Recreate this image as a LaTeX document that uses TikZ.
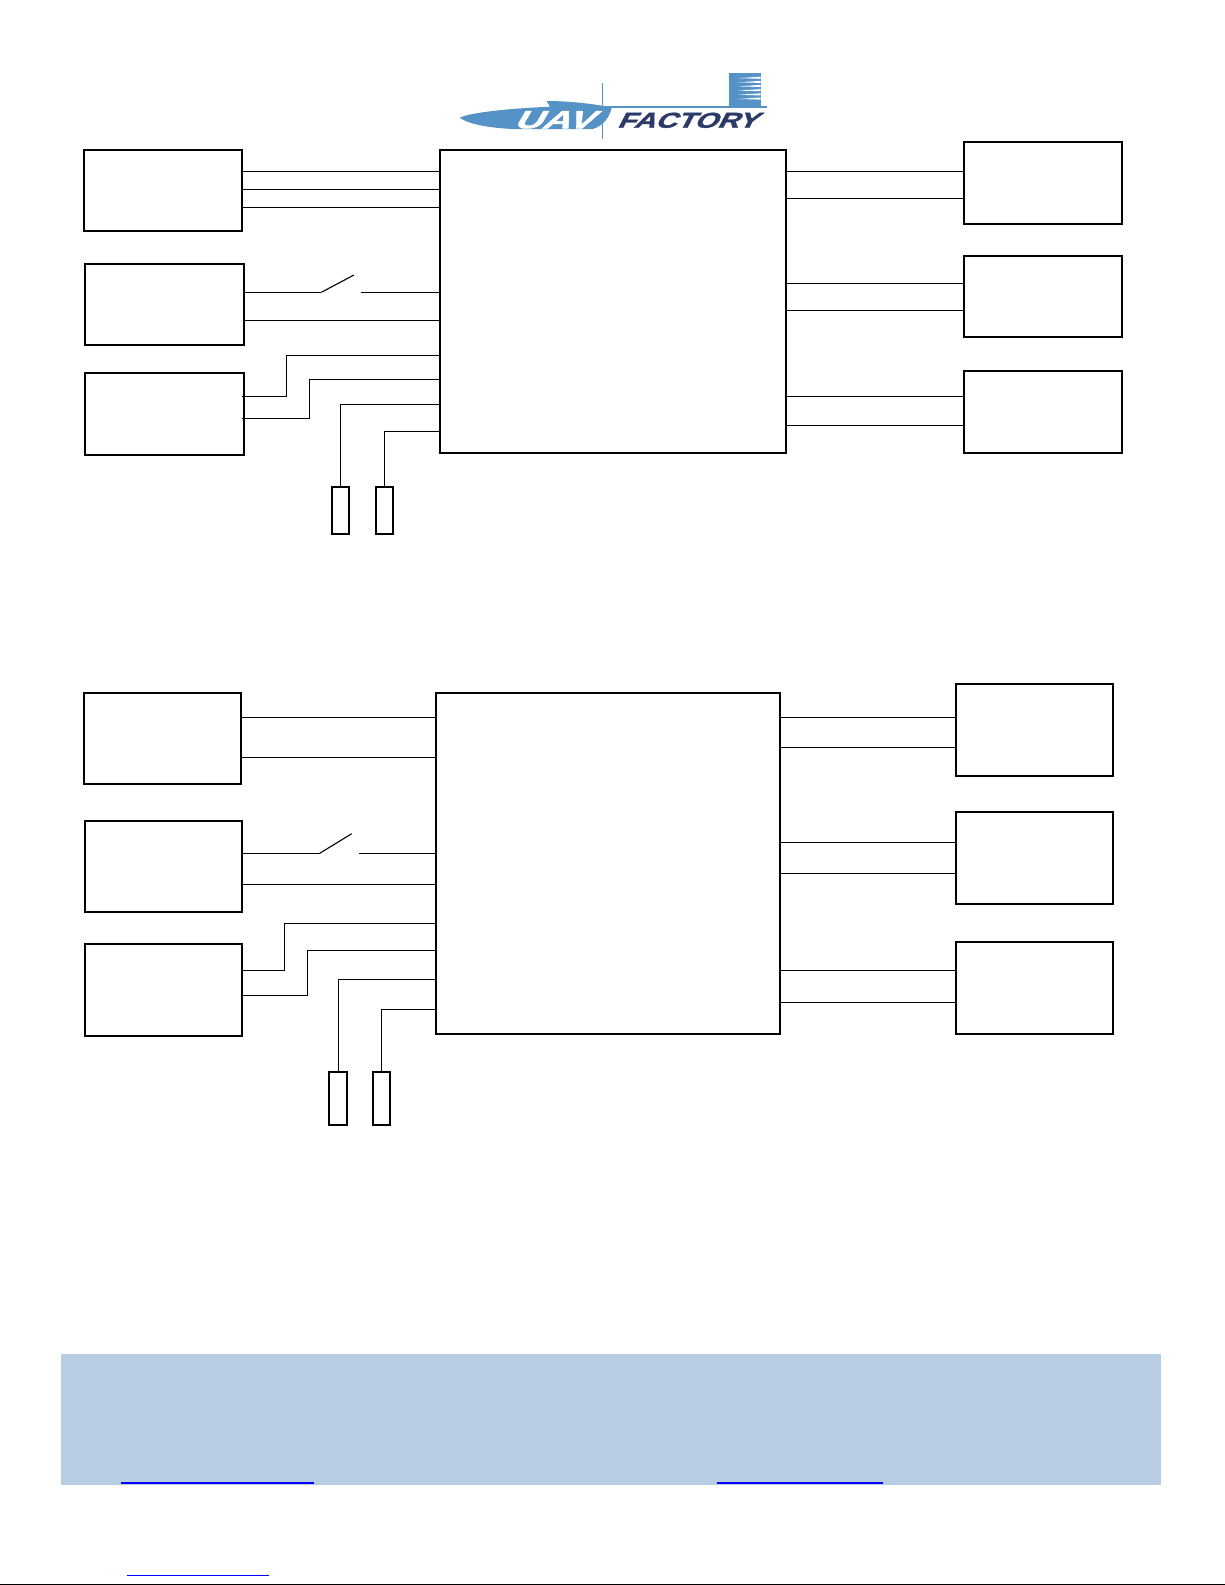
\documentclass[tikz,border=0pt]{standalone}
\usepackage{fontspec}
\setmainfont[BoldFeatures={FakeBold=1.6}]{Liberation Sans}
\definecolor{bandblue}{HTML}{B8CCE4}
\definecolor{logoblue}{HTML}{5592C6}
\definecolor{logonavy}{HTML}{2B3A67}
\definecolor{linkblue}{HTML}{0000FF}
\tikzset{
  blockbox/.style={draw=black,line width=2pt,inner sep=0pt,outer sep=0pt,anchor=north west,fill=white},
  wire/.style={draw=black,line width=1pt},
  swlever/.style={draw=black,line width=1.1pt},
  linkline/.style={draw=linkblue,line width=2pt},
  logoword/.style={inner sep=0pt,anchor=base west,font=\bfseries,transform shape},
}
% box: name, left, top, right, bottom
\newcommand{\blk}[5]{\node[blockbox,minimum width={(#4-#2)*1pt},minimum height={(#5-#3)*1pt}] (#1) at (#2,#3) {};}
% straight wire between east side of one node and west side of another at height y
\newcommand{\hw}[3]{\draw[wire] (#1.east |- 0,#3) -- (#2.west |- 0,#3);}
\begin{document}
\begin{tikzpicture}[x=1pt,y=-1pt]
\useasboundingbox (0,0) rectangle (1225,1585);
\fill[white] (0,0) rectangle (1225,1585);

% ---- logo ----
\fill[logoblue] (459.7,117.7) .. controls (468,113.5) and (500,108.8) .. (550,106.7)
  -- (546.5,101) .. controls (565,101) and (590,103) .. (611.7,107.5)
  .. controls (610,116) and (604,126) .. (592,129.2)
  -- (521.7,129.2) .. controls (498,129) and (470,125.5) .. (459.7,117.7) -- cycle;
\fill[logoblue] (605,105.6) rectangle (766.7,107.8);
\fill[logoblue] (729.3,73.3) rectangle (760.7,106);
\foreach \yy in {77.6,81.7,85.8,90,94.2,98.4}
  \fill[white] (738,\yy+0.6) -- (760.7,\yy-0.9) -- (760.7,\yy+1.2) -- cycle;
\draw[logoblue,line width=1pt] (602.3,83) -- (602.3,139);
\node[logoword,text=white,font=\bfseries\fontsize{25}{25}\selectfont,xscale=1.55,xslant=.38] (uav) at (513,128.3) {UAV};
\node[logoword,text=logonavy,font=\bfseries\fontsize{21.5}{21.5}\selectfont,xscale=1.38,xslant=.38] (factory) at (616.5,127.7) {FACTORY};

% ---- upper diagram ----
\blk{a1}{84}{150}{242}{230.7}
\blk{b1}{85}{264}{244}{344.7}
\blk{c1}{85}{373.3}{244}{454.7}
\blk{m1}{440}{150}{785.7}{452.7}
\blk{d1}{963.7}{142.3}{1122}{224}
\blk{e1}{963.7}{256}{1122}{337}
\blk{f1}{963.7}{371}{1122}{452.7}
\blk{s1}{331.7}{487}{349}{534.3}
\blk{t1}{375.7}{487}{393}{534.3}

\hw{a1}{m1}{171.3}
\hw{a1}{m1}{189.3}
\hw{a1}{m1}{207.3}
\coordinate (sw1a) at (321.3,292.3);
\coordinate (sw1t) at (354,275);
\coordinate (sw1b) at (361,292.3);
\draw[wire] (b1.east |- sw1a) -- (sw1a);
\draw[swlever] (sw1a) -- (sw1t);
\draw[wire] (sw1b) -- (m1.west |- sw1b);
\hw{b1}{m1}{320.3}
\draw[wire] ([xshift=-2pt]c1.east |- 0,396.3) -| (286.3,355.3) -- (m1.west |- 0,355.3);
\draw[wire] ([xshift=-2pt]c1.east |- 0,418.3) -| (309.3,379.3) -- (m1.west |- 0,379.3);
\draw[wire] (s1.north) |- (m1.west |- 0,404.3);
\draw[wire] (t1.north) |- (m1.west |- 0,431.3);
\hw{m1}{d1}{171.3}
\hw{m1}{d1}{198.3}
\hw{m1}{e1}{283.3}
\hw{m1}{e1}{310.3}
\hw{m1}{f1}{396.3}
\hw{m1}{f1}{425.3}

% ---- lower diagram ----
\blk{a2}{84}{693.3}{241}{783.7}
\blk{b2}{85}{821.3}{242}{911.7}
\blk{c2}{85}{944}{242}{1035.7}
\blk{m2}{436}{693.3}{780}{1033.7}
\blk{d2}{955.7}{684}{1113}{776}
\blk{e2}{955.7}{812}{1113}{904}
\blk{f2}{955.7}{942}{1113}{1033.7}
\blk{s2}{329.4}{1071.7}{347.2}{1125.3}
\blk{t2}{372.7}{1071.7}{390}{1125.3}

\hw{a2}{m2}{717.3}
\hw{a2}{m2}{757.3}
\coordinate (sw2a) at (319.7,853.3);
\coordinate (sw2t) at (351.7,833.7);
\coordinate (sw2b) at (359,853.3);
\draw[wire] (b2.east |- sw2a) -- (sw2a);
\draw[swlever] (sw2a) -- (sw2t);
\draw[wire] (sw2b) -- (m2.west |- sw2b);
\hw{b2}{m2}{884.3}
\draw[wire] ([xshift=-1pt]c2.east |- 0,970.3) -| (284.3,923.3) -- (m2.west |- 0,923.3);
\draw[wire] ([xshift=-1pt]c2.east |- 0,995.7) -| (307.3,950.3) -- (m2.west |- 0,950.3);
\draw[wire] (s2.north) |- (m2.west |- 0,979.3);
\draw[wire] (t2.north) |- (m2.west |- 0,1009.3);
\hw{m2}{d2}{717.3}
\hw{m2}{d2}{747.3}
\hw{m2}{e2}{842.3}
\hw{m2}{e2}{873.3}
\hw{m2}{f2}{970.3}
\hw{m2}{f2}{1002.3}

% ---- footer ----
\fill[bandblue] (60.5,1354) rectangle (1161,1484.7);
\draw[linkline] (121,1482.7) -- (314,1482.7);
\draw[linkline] (717,1482.7) -- (883,1482.7);
\draw[linkblue,line width=1pt] (127,1575.3) -- (269,1575.3);
\draw[black,line width=1.2pt] (0,1584.4) -- (1225,1584.4);
\end{tikzpicture}
\end{document}
